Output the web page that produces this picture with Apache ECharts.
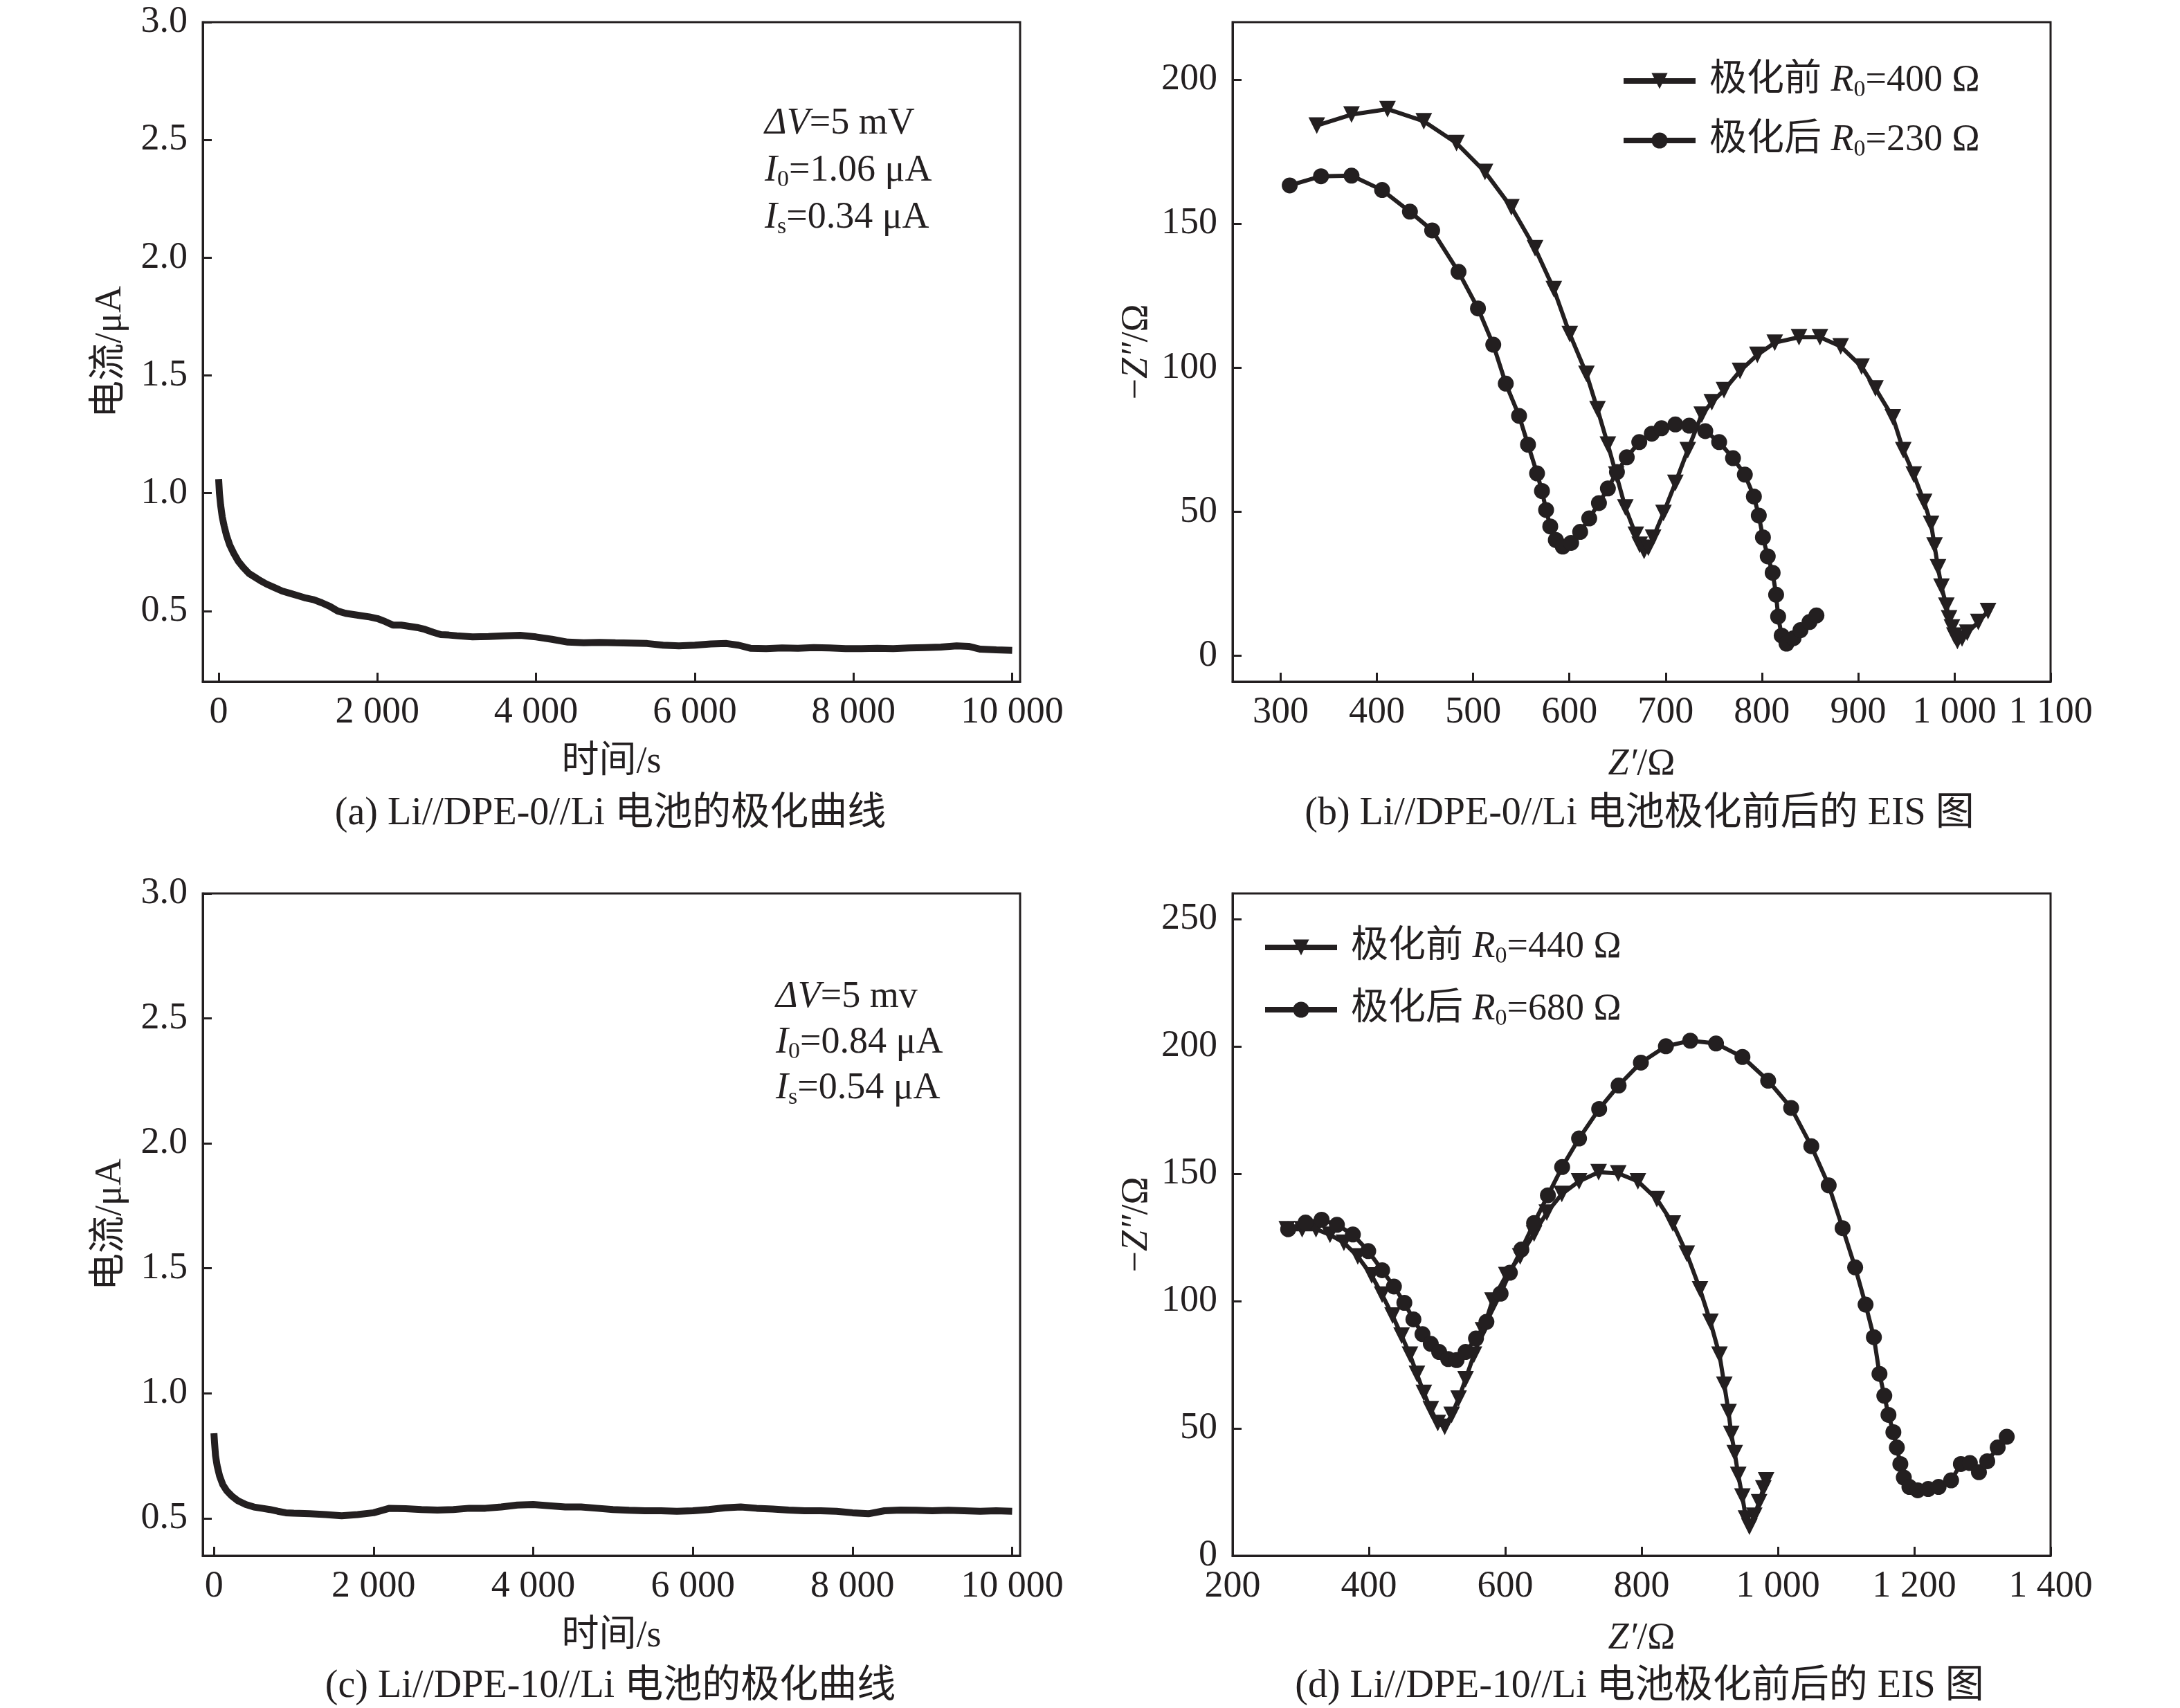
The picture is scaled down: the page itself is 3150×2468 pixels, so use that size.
<!DOCTYPE html>
<html>
<head>
<meta charset="utf-8">
<script src="https://cdn.jsdelivr.net/npm/echarts@6/dist/echarts.min.js"></script>
<style>
html,body{margin:0;padding:0;background:#fff;}
#chart{width:3150px;height:2468px;}
</style>
</head>
<body>
<div id="chart"></div>
<script>
// ---------- DATA ----------
// (a) Li//DPE-0//Li polarization curve
const aTime = [0,10,25,45,70,100,140,190,250,310,380,450,520,600,700,800,900,1000,1100,1200,1300,1400,1500,1600,1700,1800,1900,2000,2100,2200,2300,2400,2500,2600,2700,2800,2900,3000,3200,3400,3600,3800,4000,4200,4400,4600,4800,5000,5200,5400,5600,5800,6000,6200,6400,6550,6700,6900,7100,7300,7500,7700,7900,8100,8300,8500,8700,8900,9100,9300,9450,9600,9800,10000];
const aCurrent = [1.06,1.0,0.95,0.90,0.86,0.82,0.78,0.745,0.71,0.685,0.66,0.645,0.63,0.615,0.60,0.585,0.575,0.565,0.555,0.548,0.535,0.52,0.50,0.49,0.485,0.48,0.475,0.468,0.455,0.44,0.44,0.435,0.43,0.422,0.41,0.40,0.398,0.395,0.39,0.392,0.395,0.397,0.39,0.38,0.368,0.365,0.367,0.365,0.364,0.362,0.355,0.352,0.355,0.36,0.362,0.355,0.342,0.34,0.343,0.342,0.345,0.343,0.34,0.34,0.342,0.34,0.343,0.345,0.347,0.352,0.35,0.338,0.335,0.333];
// (c) Li//DPE-10//Li polarization curve
const cTime = [0,8,20,40,70,110,160,220,300,400,500,600,700,800,900,1000,1200,1400,1600,1800,2000,2200,2400,2600,2800,3000,3200,3400,3600,3800,4000,4200,4400,4600,4800,5000,5200,5400,5600,5800,6000,6200,6400,6600,6800,7000,7200,7400,7600,7800,8000,8200,8400,8600,8800,9000,9200,9400,9600,9800,10000];
const cCurrent = [0.84,0.80,0.75,0.71,0.67,0.635,0.61,0.59,0.57,0.555,0.545,0.54,0.535,0.528,0.522,0.52,0.518,0.515,0.51,0.515,0.522,0.54,0.538,0.535,0.533,0.535,0.54,0.54,0.545,0.553,0.555,0.55,0.545,0.545,0.54,0.535,0.532,0.53,0.53,0.528,0.53,0.535,0.542,0.545,0.54,0.537,0.533,0.53,0.53,0.528,0.522,0.518,0.53,0.533,0.532,0.53,0.532,0.53,0.528,0.53,0.528];
// (b) EIS, DPE-0
const bBeforeRe = [337.5,373.6,411,448.7,482.7,512.3,539.7,564.3,583.8,600.4,617.7,629.2,640,648.7,658.1,669,673,677.6,682,687,697.8,710.1,723,737.5,748,760.6,777.3,795.3,813.4,838.6,860.3,881.9,903.6,918,936.1,946.9,957.8,968.6,975.8,979.4,983,986.6,991.7,994.5,997.5,1000,1003.2,1008,1013.4,1024.9,1035];
const bBeforeIm = [184.1,187.9,189.8,185.6,178,168,155.7,141.5,127.3,111.7,97.9,85.6,73.3,62.9,51.5,42,38.5,36.4,37.5,41,49.6,60,71.4,83.7,88,92.2,98.9,104.5,108.7,110.6,110.6,107.4,100.4,92.8,82.8,71.4,62.9,53.4,45.8,38.3,30.7,24,17.4,13,9.8,7,5.1,6,8,11.7,15.5];
const bAfterRe = [309.4,341.9,373.6,405.4,434.3,457.4,484.8,505,520.9,533.9,547.7,557,566.4,571.5,575.8,580.1,585.9,593.1,601.8,611.2,620.6,630.7,640,649.4,659.6,672.6,685.6,695.7,710.1,724.5,741.2,755.6,770,782.3,791.7,796.8,801.1,806.1,811.2,814.8,816.9,820.6,825.6,832.9,840.1,849.5,856.7];
const bAfterIm = [163.3,166.5,166.7,161.7,154.2,147.7,133.3,120.6,108,94.5,83.3,73.3,63.3,57.2,50.6,44.9,40.2,37.9,39.2,43,47.7,53,58.1,63.8,68.9,74.2,77.1,79,80.3,79.9,78,74.2,68.6,62.9,55.3,48.7,41.1,34.5,28.8,21.2,13.6,7,4.2,6.1,8.9,11.7,14];
// (d) EIS, DPE-10
const dBeforeRe = [279.6,302,322.4,342.9,363.3,383.7,404.1,419.4,434.7,448,460.2,470.4,480.6,490.8,501,511.2,521.4,531.6,541.8,554.1,567.3,581.3,601.6,621.9,642.3,661,683,708.3,737,765.8,794.6,822.4,845.9,866.3,885.7,901,914.3,921.4,927.6,931.6,936.7,941.8,947.9,953.1,958.2,965.3,972.4,978.6,982.7];
const dBeforeIm = [128.2,128.2,128.2,126,122.9,117.5,110,102.5,94.3,86.4,78.9,71.4,63.9,57.5,52.1,50.6,55.3,61.7,69.3,78.9,88.5,100.2,110.2,117.5,126.5,134.7,142,147,150.6,150.1,147,140,130.4,118.6,104.6,91.8,78.9,67.1,56.4,47.8,40.3,31.7,23.2,14.6,11.4,15.7,21,26.4,29.6];
const dAfterRe = [281.6,307.1,330.6,353.1,376.5,399,419.4,436.7,452,465.3,478.6,490.8,503.1,516.3,528.6,541.8,557.1,572.4,593.2,606.8,623.7,642.3,662.6,683.5,708.3,737.8,766.3,799,835.7,871.4,909.2,948,985.7,1019.4,1049,1074.5,1094.9,1113.3,1128.6,1140.8,1149,1156.1,1162.2,1169.4,1174.5,1179.6,1184.7,1192.9,1205.1,1220.4,1235.7,1254.1,1268.4,1281.6,1294.9,1307.1,1322.4,1335.7];
const dAfterIm = [128.2,130.8,131.9,129.9,126.1,119.6,112.1,105.7,99.3,92.8,87,83.2,80,77.2,76.8,80,85.3,91.8,102.9,111.1,120.2,130.6,141.5,152.6,163.8,175.4,184.6,193.6,200,202.2,201.1,195.8,186.5,175.8,160.8,145.4,128.6,113.2,98.6,85.8,71.4,62.8,55.3,48.5,42.5,36,30.7,27,25.7,26.2,27,29.6,36,36.4,32.8,37.1,42.5,46.7];
// tick values
const tickTime = [0,2000,4000,6000,8000,10000];
const tickCurrent = [0.5,1.0,1.5,2.0,2.5,3.0];
const tickZreB = [300,400,500,600,700,800,900,1000,1100];
const tickZimB = [0,50,100,150,200];
const tickZreD = [200,400,600,800,1000,1200,1400];
const tickZimD = [0,50,100,150,200,250];
// texts
const annotA = ['{i|ΔV}=5 mV','{i|I}{sub|0}=1.06 μA','{i|I}{sub|s}=0.34 μA'];
const annotC = ['{i|ΔV}=5 mv','{i|I}{sub|0}=0.84 μA','{i|I}{sub|s}=0.54 μA'];
const captions = ['(a) Li//DPE-0//Li 电池的极化曲线','(b) Li//DPE-0//Li 电池极化前后的 EIS 图','(c) Li//DPE-10//Li 电池的极化曲线','(d) Li//DPE-10//Li 电池极化前后的 EIS 图'];
const legendB = {'b前':'极化前 {i|R}{sub|0}=400 Ω','b后':'极化后 {i|R}{sub|0}=230 Ω'};
const legendD = {'d前':'极化前 {i|R}{sub|0}=440 Ω','d后':'极化后 {i|R}{sub|0}=680 Ω'};

// ---------- STYLE ----------
const INK = '#231f20';
const SERIF = '"Liberation Serif","Times New Roman","Noto Sans CJK SC",serif';
const FS = 54;
const rich = {
  i: {fontFamily: SERIF, fontStyle: 'italic', fontSize: FS, color: INK, lineHeight: 60},
  sub: {fontFamily: SERIF, fontSize: 34, color: INK, verticalAlign: 'bottom', lineHeight: 34},
  n: {fontFamily: SERIF, fontSize: FS, color: INK, lineHeight: 60}
};
const zip = (xs, ys) => xs.map((x, i) => [x, ys[i]]);
const spaced = v => String(Math.round(v)).replace(/\B(?=(\d{3})+(?!\d))/g, ' ');

const grids = [
  {left: 293, top: 32, width: 1181, height: 953},
  {left: 1781, top: 32, width: 1182, height: 953},
  {left: 293, top: 1291, width: 1181, height: 957},
  {left: 1781, top: 1291, width: 1182, height: 957}
].map(g => Object.assign(g, {show: true, borderColor: INK, borderWidth: 3, backgroundColor: 'transparent', containLabel: false, outerBoundsMode: 'none'}));

function axis(gi, min, max, ticks, fmt, name, nameGap, isY) {
  return {
    type: 'value', gridIndex: gi, min: min, max: max,
    name: name, nameLocation: 'middle', nameGap: nameGap,
    nameTextStyle: {fontFamily: SERIF, fontSize: FS, color: INK, rich: rich},
    axisLine: {show: true, onZero: false, lineStyle: {color: INK, width: 3}},
    axisTick: {show: true, inside: true, length: 13, lineStyle: {color: INK, width: 3}, customValues: ticks},
    axisLabel: {show: true, margin: isY ? 22 : 18, fontFamily: SERIF, fontSize: FS, color: INK, formatter: fmt, customValues: ticks, hideOverlap: false, showMinLabel: true, showMaxLabel: true},
    splitLine: {show: false}
  };
}
const f1 = v => v.toFixed(1);

const xAxis = [
  axis(0, -200, 10100, tickTime, spaced, '时间/s', 90, false),
  axis(1, 250, 1100, tickZreB, spaced, '{i|Z′}/Ω', 90, false),
  axis(2, -140, 10100, tickTime, spaced, '时间/s', 90, false),
  axis(3, 200, 1400, tickZreD, spaced, '{i|Z′}/Ω', 90, false)
];
const yAxis = [
  axis(0, 0.2, 3.0, tickCurrent, f1, '电流/μA', 106, true),
  axis(1, -9, 220, tickZimB, spaced, '−{i|Z″}/Ω', 108, true),
  axis(2, 0.35, 3.0, tickCurrent, f1, '电流/μA', 106, true),
  axis(3, 0, 260, tickZimD, spaced, '−{i|Z″}/Ω', 108, true)
];

function curve(gi, xs, ys) {
  return {type: 'line', xAxisIndex: gi, yAxisIndex: gi, data: zip(xs, ys), showSymbol: false, symbol: 'none',
    lineStyle: {color: INK, width: 10}, itemStyle: {color: INK}, animation: false, silent: true};
}
function eis(gi, name, xs, ys, tri) {
  return {type: 'line', name: name, xAxisIndex: gi, yAxisIndex: gi, data: zip(xs, ys),
    symbol: tri ? 'triangle' : 'circle', symbolRotate: tri ? 180 : 0, symbolSize: tri ? 24 : 23,
    showSymbol: true, showAllSymbol: true,
    lineStyle: {color: INK, width: 6}, itemStyle: {color: INK, borderWidth: 0}, animation: false, silent: true};
}

function legend(names, map, left, top, gap) {
  return {
    data: names, orient: 'vertical', left: left, top: top, itemWidth: 104, itemHeight: 29, itemGap: gap,
    selectedMode: false, lineStyle: {width: 8, color: INK}, itemStyle: {color: INK},
    formatter: n => map[n],
    textStyle: {fontFamily: SERIF, fontSize: FS, color: INK, lineHeight: 60, padding: [0, 0, 0, 15], rich: rich}
  };
}

function txt(x, y, text, size, align) {
  return {type: 'text', x: x, y: y, silent: true,
    style: {text: text, fontFamily: SERIF, fontSize: size, fill: INK, align: align, verticalAlign: 'middle', lineHeight: 60, rich: rich}};
}
const graphic = [];
annotA.forEach((t, i) => graphic.push(txt(1105, 179 + i * 68, t, FS, 'left')));
annotC.forEach((t, i) => graphic.push(txt(1121, 1441 + i * 66, t, FS, 'left')));
graphic.push(txt(882, 1176, captions[0], 56, 'center'));
graphic.push(txt(2369, 1176, captions[1], 56, 'center'));
graphic.push(txt(882, 2437, captions[2], 56, 'center'));
graphic.push(txt(2369, 2437, captions[3], 56, 'center'));

const option = {
  backgroundColor: '#fff',
  animation: false,
  textStyle: {fontFamily: SERIF},
  grid: grids,
  xAxis: xAxis,
  yAxis: yAxis,
  legend: [legend(['b前', 'b后'], legendB, 2337, 82, 26), legend(['d前', 'd后'], legendD, 1819, 1334, 30)],
  series: [
    curve(0, aTime, aCurrent),
    eis(1, 'b前', bBeforeRe, bBeforeIm, true),
    eis(1, 'b后', bAfterRe, bAfterIm, false),
    curve(2, cTime, cCurrent),
    eis(3, 'd前', dBeforeRe, dBeforeIm, true),
    eis(3, 'd后', dAfterRe, dAfterIm, false)
  ],
  graphic: graphic
};
const chart = echarts.init(document.getElementById('chart'), null, {renderer: 'canvas'});
chart.setOption(option);
</script>
</body>
</html>
